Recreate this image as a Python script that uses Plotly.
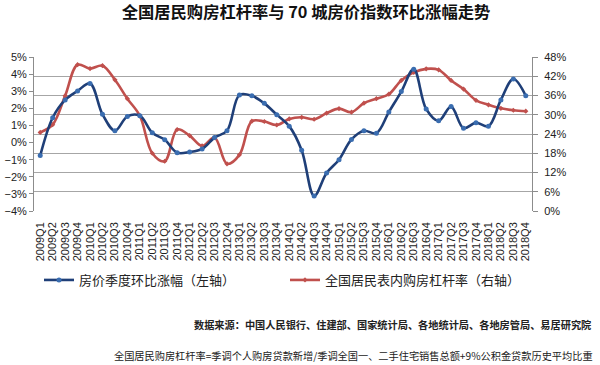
import plotly.graph_objects as go

quarters = ["2009Q1","2009Q2","2009Q3","2009Q4","2010Q1","2010Q2","2010Q3","2010Q4",
            "2011Q1","2011Q2","2011Q3","2011Q4","2012Q1","2012Q2","2012Q3","2012Q4",
            "2013Q1","2013Q2","2013Q3","2013Q4","2014Q1","2014Q2","2014Q3","2014Q4",
            "2015Q1","2015Q2","2015Q3","2015Q4","2016Q1","2016Q2","2016Q3","2016Q4",
            "2017Q1","2017Q2","2017Q3","2017Q4","2018Q1","2018Q2","2018Q3","2018Q4"]

price_qoq = [-0.76, 1.45, 2.49, 3.02, 3.45, 1.65, 0.69, 1.53,
             1.57, 0.57, 0.16, -0.59, -0.55, -0.37, 0.29, 0.69,
             2.78, 2.73, 2.29, 1.63, 0.96, -0.45, -3.12, -1.78,
             -1.00, 0.18, 0.69, 0.55, 1.78, 2.98, 4.29, 1.96,
             1.27, 2.10, 0.84, 1.16, 0.96, 2.49, 3.71, 2.73]

leverage = [24.5, 26.9, 35.9, 45.6, 44.4, 45.3, 40.9, 35.0,
            29.7, 18.0, 15.5, 25.4, 23.5, 20.3, 22.9, 14.7,
            17.5, 28.0, 27.9, 26.8, 28.7, 29.2, 28.6, 30.5,
            31.9, 30.8, 33.6, 35.0, 36.4, 40.7, 43.2, 44.3,
            44.0, 40.7, 38.0, 34.5, 33.1, 32.0, 31.4, 31.1]

name_price = "房价季度环比涨幅（左轴）"
name_lev = "全国居民表内购房杠杆率（右轴）"
title_text = "<b>全国居民购房杠杆率与 70 城房价指数环比涨幅走势</b>"
source_text = "<b>数据来源：中国人民银行、住建部、国家统计局、各地统计局、各地房管局、易居研究院</b>"
note_text = "全国居民购房杠杆率=季调个人购房贷款新增/季调全国一、二手住宅销售总额+9%公积金贷款历史平均比重"

BLUE = "#1F3F78"
BLUE_M = "#3A6DB0"
RED = "#C0504D"
GRID = "#A6A6A6"
AXIS = "#8C8C8C"
CJK = "Noto Sans CJK SC"
LAT = "Liberation Sans"

fig = go.Figure()
fig.add_trace(go.Scatter(
    x=quarters, y=leverage, yaxis="y", name=name_lev, legendrank=2,
    mode="lines+markers", line=dict(color=RED, width=2.6, shape="spline", smoothing=1.0),
    marker=dict(symbol="diamond", size=4, color=RED)))
fig.add_trace(go.Scatter(
    x=quarters, y=price_qoq, yaxis="y2", name=name_price, legendrank=1,
    mode="lines+markers", line=dict(color=BLUE, width=2.6, shape="spline", smoothing=1.0),
    marker=dict(symbol="circle", size=5, color=BLUE_M)))

fig.update_layout(
    width=600, height=365,
    margin=dict(l=34, r=68, t=57, b=154, autoexpand=False),
    paper_bgcolor="white", plot_bgcolor="white",
    font=dict(family=LAT, size=11, color="#222"),
    title=dict(text=title_text, x=306 / 600, xref="container", xanchor="center",
               y=1 - 12 / 365, yref="container", yanchor="middle",
               font=dict(family=CJK, size=16.3, color="#111")),
    showlegend=True,
    legend=dict(orientation="h", xref="container", yref="container",
                x=39 / 600, y=1 - 280 / 365, xanchor="left", yanchor="middle",
                font=dict(family=CJK, size=13, color="#222"),
                itemwidth=30, entrywidth=201, entrywidthmode="pixels",
                bgcolor="rgba(0,0,0,0)"),
    xaxis=dict(type="category", range=[-0.5, 39.5], tickmode="array",
               tickvals=quarters, ticktext=quarters, tickangle=-90,
               ticks="", showline=False, showgrid=False, zeroline=False,
               automargin=False,
               ticklabelstandoff=8, tickfont=dict(family=LAT, size=11, color="#222"),
               layer="below traces"),
    xaxis2=dict(overlaying="x", anchor="free", position=4 / 9, side="bottom",
                range=[-0.5, 39.5], tickmode="array",
                tickvals=[i - 0.5 for i in range(41)], automargin=False,
                showticklabels=False, ticks="outside", ticklen=5, tickcolor=AXIS,
                showline=True, linecolor=AXIS, linewidth=1, showgrid=False,
                zeroline=False, layer="below traces"),
    yaxis=dict(side="right", range=[0, 48], dtick=6, tick0=0, ticksuffix="%",
               showgrid=True, gridcolor=GRID, gridwidth=1, zeroline=False,
               showline=True, linecolor=AXIS, ticks="outside", ticklen=5,
               automargin=False, ticklabelstandoff=4,
               tickcolor=AXIS, tickfont=dict(family=LAT, size=11, color="#222"),
               layer="below traces"),
    yaxis2=dict(side="left", overlaying="y", range=[-4, 5], dtick=1, tick0=0,
                ticksuffix="%", showgrid=False, zeroline=False, automargin=False,
                showline=True, linecolor=AXIS, ticks="outside", ticklen=4,
                tickcolor=AXIS, tickfont=dict(family=LAT, size=11, color="#222"),
                layer="below traces"),
)

fig.add_annotation(text=source_text, xref="paper", yref="paper",
                   x=(593 - 34) / 498, y=(211 - 324) / 154, xanchor="right", yanchor="middle",
                   showarrow=False, font=dict(family=CJK, size=10.2, color="#222"))
fig.add_annotation(text=note_text, xref="paper", yref="paper",
                   x=(595 - 34) / 498, y=(211 - 355) / 154, xanchor="right", yanchor="middle",
                   showarrow=False, font=dict(family=CJK, size=10.2, color="#222"))

fig.write_html("out.html", config={"displayModeBar": False},
               post_script="document.body.style.margin='0';document.body.style.padding='0';")
